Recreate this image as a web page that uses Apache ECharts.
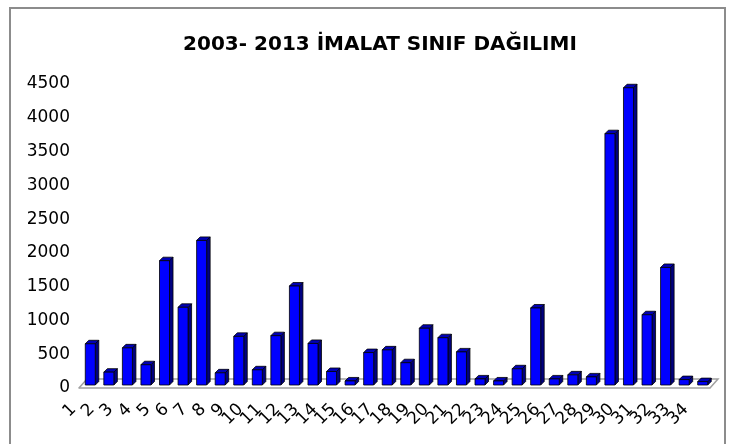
<!DOCTYPE html>
<html>
<head>
<meta charset="utf-8">
<script src="https://cdn.jsdelivr.net/npm/echarts@6/dist/echarts.min.js"></script>
<style>
  html, body { margin: 0; padding: 0; background: #fff; }
  #chart { width: 729px; height: 444px; }
</style>
</head>
<body>
<div id="chart"></div>
<script>
// categories 1..34 and values
const categories = ['1', '2', '3', '4', '5', '6', '7', '8', '9', '10', '11', '12', '13', '14', '15', '16', '17',
  '18', '19', '20', '21', '22', '23', '24', '25', '26', '27', '28', '29', '30', '31', '32', '33', '34']
const values = [610, 190, 550, 300, 1840, 1150, 2140, 180, 720, 225, 730, 1465, 615, 200, 60, 480, 520,
  330, 840, 700, 490, 90, 60, 240, 1140, 90, 150, 120, 3720, 4400, 1040, 1740, 80, 50]
const yTicks = [0, 500, 1000, 1500, 2000, 2500, 3000, 3500, 4000, 4500]

const FONT = 'DejaVu Sans'
const LIFT = 3   // bars sit slightly behind the front edge of the floor
const DEPTH = 3.5

const chart = echarts.init(document.getElementById('chart'))

const renderBar = (params, api) => {
  const idx = api.value(0)
  const base = api.coord([idx, 0])
  const top = api.coord([idx, api.value(1)])
  const half = api.size([1, 0])[0] * 0.27
  const cx = base[0] + 2
  const y0 = base[1] - LIFT
  const y1 = top[1] - LIFT
  const l = cx - half
  const r = cx + half
  const stroke = { stroke: '#000', lineWidth: 0.8 }
  return {
    type: 'group',
    children: [
      {
        type: 'polygon',
        shape: { points: [[r, y0], [r, y1], [r + DEPTH, y1 - DEPTH], [r + DEPTH, y0 - DEPTH]] },
        style: { fill: '#000080', ...stroke },
      },
      {
        type: 'polygon',
        shape: { points: [[l, y1], [r, y1], [r + DEPTH, y1 - DEPTH], [l + DEPTH, y1 - DEPTH]] },
        style: { fill: '#0000b4', ...stroke },
      },
      {
        type: 'rect',
        shape: { x: l, y: y1, width: r - l, height: y0 - y1 },
        style: { fill: '#0000ff', ...stroke },
      },
    ],
  }
}

// back edge and side edges of the 3D floor
const renderFloor = (params, api) => {
  const step = api.size([1, 0])[0]
  const a = api.coord([0, 0])
  const b = api.coord([categories.length - 1, 0])
  const xl = a[0] - step / 2
  const xr = b[0] + step / 2
  const y = a[1]
  return {
    type: 'polyline',
    shape: { points: [[xl, y], [xl + 8, y - 9], [xr + 8, y - 9], [xr, y]] },
    style: { stroke: '#a0a0a0', lineWidth: 1.5, fill: null },
  }
}

chart.setOption({
  backgroundColor: '#fff',
  animation: false,
  title: {
    text: '2003- 2013 İMALAT SINIF DAĞILIMI',
    left: 375,
    textAlign: 'center',
    top: 30,
    textStyle: { fontFamily: FONT, fontWeight: 'bold', fontSize: 20, color: '#000' },
  },
  graphic: [
    {
      type: 'rect',
      shape: { x: 10, y: 8, width: 715, height: 450 },
      style: { fill: null, stroke: '#8c8c8c', lineWidth: 2 },
      silent: true,
    },
  ],
  grid: { left: 79, right: 19, top: 84, bottom: 56 },
  xAxis: {
    type: 'category',
    data: categories,
    axisLine: { lineStyle: { color: '#a0a0a0', width: 1.5 } },
    axisTick: { lineStyle: { color: '#a0a0a0' }, length: 5 },
    axisLabel: {
      interval: 0,
      rotate: 45,
      margin: 4,
      padding: [0, 21, 0, 0],
      fontFamily: FONT,
      fontSize: 17,
      color: '#000',
    },
  },
  yAxis: {
    type: 'value',
    min: yTicks[0],
    max: yTicks[yTicks.length - 1],
    interval: 500,
    axisLine: { show: false },
    axisTick: { show: false },
    splitLine: { show: false },
    axisLabel: {
      margin: 9,
      padding: [4, 0, 0, 0],
      fontFamily: FONT,
      fontSize: 17,
      color: '#000',
      formatter: (v) => String(v),
    },
  },
  series: [
    {
      type: 'custom',
      renderItem: renderFloor,
      data: [[0, 0]],
      silent: true,
      z: 1,
    },
    {
      type: 'custom',
      renderItem: renderBar,
      data: values.map((v, i) => [i, v]),
      encode: { x: 0, y: 1 },
      z: 2,
    },
  ],
})
</script>
</body>
</html>
